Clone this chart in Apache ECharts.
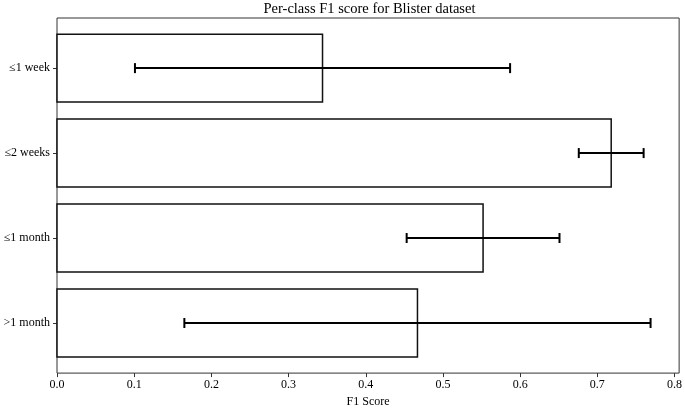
<!DOCTYPE html>
<html>
<head>
<meta charset="utf-8">
<script src="https://cdn.jsdelivr.net/npm/echarts@6/dist/echarts.min.js"></script>
<style>html,body{margin:0;padding:0;background:#fff}#c{width:685px;height:413px}</style>
</head>
<body>
<div id="c"></div>
<script>
const categories = ['≤1 week', '≤2 weeks', '≤1 month', '>1 month'];
const f1Mean = [0.344, 0.718, 0.552, 0.467];
const f1Err = [0.243, 0.042, 0.099, 0.302];
const xTicks = [0.0, 0.1, 0.2, 0.3, 0.4, 0.5, 0.6, 0.7, 0.8];
const yTicks = [0, 1, 2, 3];

const FONT = '"Liberation Serif", "Times New Roman", serif';
const chart = echarts.init(document.getElementById('c'), null, {renderer: 'canvas'});

const barData = categories.map((c, i) => [f1Mean[i], i]);
const errData = categories.map((c, i) => [f1Mean[i] - f1Err[i], f1Mean[i] + f1Err[i], i]);

chart.setOption({
  animation: false,
  backgroundColor: '#fff',
  graphic: [{
    type: 'text', x: 369.5, y: 2,
    style: {text: 'Per-class F1 score for Blister dataset', fill: '#000', font: '14.5px ' + FONT, textAlign: 'center', textVerticalAlign: 'top'}
  }],
  grid: {left: 57, right: 3, top: 18, bottom: 34, show: true, borderColor: '#333', borderWidth: 1, backgroundColor: 'transparent'},
  xAxis: {
    type: 'value', min: 0, max: 0.806,
    splitLine: {show: false},
    axisLine: {show: false, onZero: false},
    axisTick: {show: true, length: 4, lineStyle: {color: '#333'}, customValues: xTicks},
    axisLabel: {customValues: xTicks, formatter: v => v.toFixed(1), color: '#000', fontFamily: FONT, fontSize: 12, margin: 6},
    name: 'F1 Score', nameLocation: 'middle', nameGap: 21,
    nameTextStyle: {color: '#000', fontFamily: FONT, fontSize: 12}
  },
  yAxis: {
    type: 'value', min: -0.59, max: 3.59, inverse: true,
    splitLine: {show: false},
    axisLine: {show: false, onZero: false},
    axisTick: {show: true, length: 4, lineStyle: {color: '#333'}, customValues: yTicks},
    axisLabel: {customValues: yTicks, formatter: v => categories[Math.round(v)] || '', color: '#000', fontFamily: FONT, fontSize: 12, margin: 7}
  },
  series: [{
    type: 'custom',
    data: barData,
    renderItem: function (params, api) {
      const v = api.value(0), y = api.value(1);
      const p0 = api.coord([0, y - 0.4]);
      const p1 = api.coord([v, y + 0.4]);
      return {type: 'rect', shape: {x: p0[0], y: p0[1], width: p1[0] - p0[0], height: p1[1] - p0[1]},
        style: {fill: '#fff', stroke: '#111', lineWidth: 1.5}};
    }
  }, {
    type: 'custom',
    data: errData,
    z: 5,
    renderItem: function (params, api) {
      const lo = api.value(0), hi = api.value(1), y = api.value(2);
      const a = api.coord([lo, y]), b = api.coord([hi, y]);
      const s = {stroke: '#000', lineWidth: 2};
      return {type: 'group', children: [
        {type: 'line', shape: {x1: a[0], y1: a[1], x2: b[0], y2: b[1]}, style: s},
        {type: 'line', shape: {x1: a[0], y1: a[1] - 5, x2: a[0], y2: a[1] + 5}, style: s},
        {type: 'line', shape: {x1: b[0], y1: b[1] - 5, x2: b[0], y2: b[1] + 5}, style: s}
      ]};
    }
  }]
});
</script>
</body>
</html>
